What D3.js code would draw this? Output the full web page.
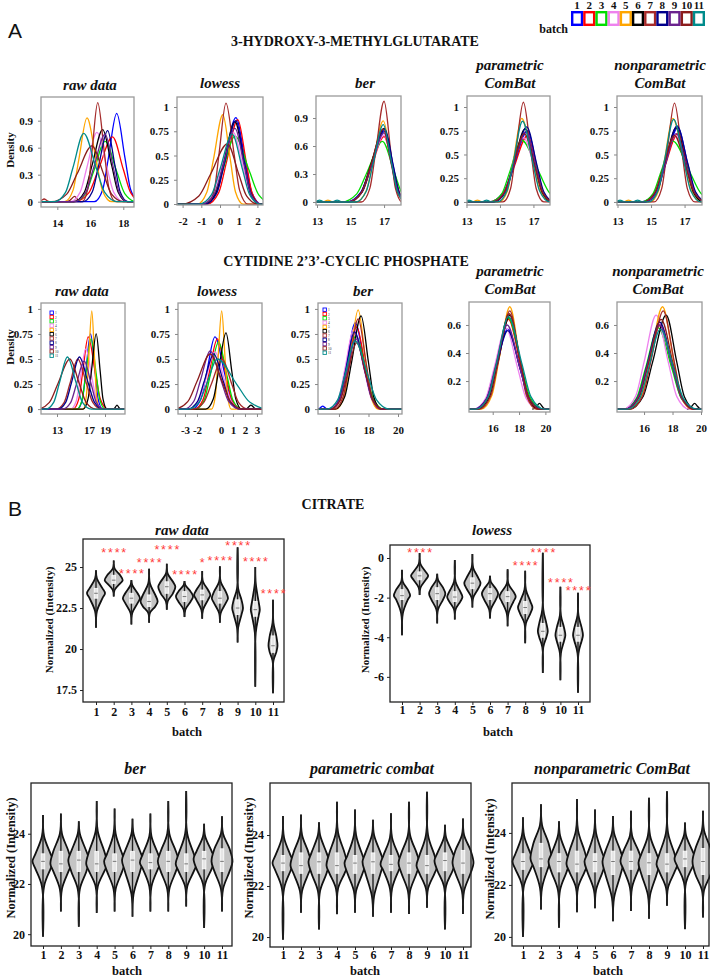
<!DOCTYPE html>
<html><head><meta charset="utf-8">
<script src="https://cdn.jsdelivr.net/npm/d3@7"></script>
<style>body{margin:0;background:#fff}svg{display:block}</style>
</head><body>
<svg id="c" width="710" height="977"></svg>
<script>
// ---------------- DATA ----------------
const batches = [1,2,3,4,5,6,7,8,9,10,11];
const batchColors = ["#0000ff","#ff0000","#00dd00","#ee82ee","#ffa500","#000000","#a52a2a","#00008b","#6b238e","#8b1c1c","#008b8b"];

const hmgTitle = "3-HYDROXY-3-METHYLGLUTARATE";
const cytTitle = "CYTIDINE 2\u20193\u2019-CYCLIC PHOSPHATE";
const citTitle = "CITRATE";

// density curves per batch: [x at left half-height, x at peak, x at right half-height, peak density]
const hmgRaw = [[17.1,17.6,18.1,0.98],[16.5,17.35,18.0,0.72],[16.2,16.9,17.6,0.67],[15.8,16.4,17.0,0.77],[15.3,15.8,16.35,0.93],[16.1,16.75,17.3,0.8],[16.1,16.45,16.85,1.1],[16.5,17.05,17.5,0.79],[16.2,16.9,17.4,0.75],[15.2,16.1,16.8,0.62],[14.95,15.6,16.35,0.76]];
const hmgLowess = [[0.25,0.85,1.35,0.89],[0.35,0.95,1.4,0.87],[0.15,0.8,1.55,0.7],[0.05,0.7,1.25,0.74],[-0.35,0.15,0.55,0.92],[0.2,0.8,1.3,0.85],[-0.05,0.32,0.75,1.04],[0.25,0.85,1.3,0.86],[0.15,0.8,1.3,0.78],[-0.5,0.4,1.0,0.62],[0.0,0.65,1.2,0.72]];
const hmgBer = [[16.2,17.05,17.55,0.76],[16.2,17.0,17.55,0.7],[16.0,16.9,17.6,0.65],[16.2,17.0,17.5,0.72],[16.35,16.95,17.45,0.87],[16.2,17.0,17.5,0.79],[16.5,17.0,17.4,1.08],[16.25,17.05,17.55,0.78],[16.2,17.0,17.5,0.74],[16.2,16.95,17.45,0.78],[16.35,16.95,17.45,0.83]];
const hmgPCombat = [[15.8,16.65,17.2,0.75],[15.8,16.65,17.2,0.7],[15.6,16.3,17.3,0.65],[15.75,16.4,17.1,0.68],[15.8,16.3,16.95,0.88],[15.8,16.5,17.1,0.77],[15.95,16.4,16.85,1.05],[15.85,16.6,17.2,0.79],[15.8,16.55,17.15,0.74],[15.75,16.45,17.1,0.72],[15.8,16.35,16.95,0.85]];
const hmgNpCombat = [[15.8,16.6,17.2,0.78],[15.8,16.6,17.2,0.72],[15.6,16.3,17.3,0.64],[15.75,16.45,17.1,0.7],[15.8,16.3,16.95,0.88],[15.8,16.5,17.1,0.78],[15.95,16.4,16.85,1.04],[15.85,16.55,17.2,0.8],[15.8,16.5,17.15,0.72],[15.7,16.4,17.1,0.7],[15.8,16.35,16.95,0.87]];

const cytRaw = [[16.6,17.2,17.75,0.75],[16.2,16.9,17.8,0.72],[16.6,17.25,17.9,0.7],[15.9,16.6,17.4,0.6],[16.95,17.35,17.7,0.98],[17.3,17.9,18.4,0.75],[14.6,15.6,16.7,0.5],[14.8,15.8,16.9,0.52],[15.4,16.4,17.3,0.48],[13.1,14.6,15.8,0.5],[13.3,14.3,15.4,0.52]];
const cytLowess = [[-1.2,-0.5,0.3,0.72],[-1.0,-0.3,0.4,0.7],[-0.9,-0.2,0.5,0.67],[-1.3,-0.5,0.3,0.57],[-0.25,0.06,0.35,0.98],[-0.2,0.42,0.9,0.76],[-0.8,0.1,0.9,0.5],[-1.4,-0.6,0.2,0.55],[-1.7,-0.9,0.0,0.58],[-2.0,-0.9,0.1,0.55],[-1.2,-0.3,1.3,0.5]];
const cytBer = [[16.5,17.1,17.75,0.86],[16.55,17.2,17.8,0.82],[16.5,17.15,17.85,0.73],[16.4,17.0,17.7,0.8],[16.75,17.3,17.8,0.99],[16.85,17.5,18.0,0.93],[16.7,17.3,17.85,0.9],[16.45,17.05,17.75,0.77],[16.5,17.15,17.8,0.7],[16.55,17.2,17.85,0.66],[16.4,17.1,17.95,0.68]];
const cytPCombat = [[16.2,17.15,18.1,0.57],[16.3,17.2,18.1,0.64],[16.25,17.2,18.15,0.65],[16.1,17.0,17.9,0.58],[16.5,17.3,18.05,0.73],[16.4,17.3,18.1,0.67],[16.45,17.3,18.05,0.7],[16.2,17.15,18.1,0.56],[16.2,17.1,18.05,0.6],[16.35,17.25,18.1,0.68],[16.3,17.2,18.2,0.66]];
const cytNpCombat = [[16.2,17.1,18.0,0.6],[16.2,17.15,18.0,0.6],[16.1,17.0,17.95,0.58],[16.0,16.85,17.7,0.67],[16.45,17.3,18.05,0.73],[16.6,17.55,18.3,0.67],[16.5,17.35,18.1,0.7],[16.2,17.1,18.0,0.62],[16.2,17.1,18.0,0.6],[16.3,17.2,18.05,0.64],[16.3,17.15,18.1,0.57]];

// small secondary bumps: [batch, x at left half-height, x at peak, x at right half-height, density]
const hmgRawBumps = [[7,13.05,13.2,13.35,0.03],[10,14.85,15.05,15.2,0.06]];
const hmgCbBumps = [[5,13.5,13.65,13.8,0.02],[11,14.05,14.2,14.35,0.02],[11,13.0,13.15,13.3,0.02]];
const cytRawBumps = [[6,20.3,20.5,20.7,0.04]];
const cytLowBumps = [[6,2.3,2.5,2.7,0.04]];
const cytBerBumps = [[1,14.75,14.9,15.05,0.03]];
const cytCbBumps = [[6,19.35,19.55,19.75,0.04]];

// tick labels
const hmgRawXTicks = [14,16,18], hmgRawYTicks = [0,0.3,0.6,0.9];
const hmgLowXTicks = [-2,-1,0,1,2], quarterTicks = [0,0.25,0.5,0.75,1];
const hmgBerXTicks = [13,15,17], hmgBerYTicks = [0,0.3,0.6,0.9];
const hmgCbXTicks = [13,15,17];
const cytRawXTicks = [13,17,19], cytLowXTicks = [-3,-2,0,1,2,3];
const cytBerXTicks = [16,18,20], cytCbYTicks = [0.2,0.4,0.6];

// violins per batch: [min, body low, q1, median, q3, body high, max, relative width]
const citRaw = [[21.3,22.3,23.1,23.4,23.7,24.3,24.8,1.0],[23.2,23.6,24.0,24.2,24.5,24.9,25.4,1.0],[21.5,22.2,22.8,23.1,23.4,23.9,24.2,0.95],[21.6,22.2,22.6,22.9,23.3,24.0,24.9,0.95],[22.4,22.9,23.4,23.8,24.1,24.6,25.2,0.95],[21.95,22.4,22.9,23.2,23.5,23.9,24.15,0.95],[21.85,22.4,23.0,23.3,23.6,24.1,24.75,0.9],[21.6,22.2,22.8,23.1,23.5,24.1,25.05,0.9],[20.4,21.3,22.1,22.5,23.0,23.7,26.2,0.6],[17.7,21.0,22.0,22.4,22.9,24.0,25.0,0.5],[17.3,19.3,19.8,20.2,20.8,21.6,23.0,0.5]];
const citLowess = [[-3.9,-2.8,-2.1,-1.9,-1.6,-1.2,-0.6,0.9],[-1.87,-1.5,-1.1,-0.9,-0.7,-0.3,0.25,0.95],[-3.3,-2.6,-2.1,-1.8,-1.5,-1.1,-0.8,0.9],[-3.1,-2.6,-2.2,-1.97,-1.7,-1.2,-0.1,0.85],[-2.5,-2.0,-1.55,-1.27,-1.0,-0.5,0.2,0.9],[-3.05,-2.6,-2.1,-1.8,-1.55,-1.2,-0.9,0.9],[-3.45,-2.8,-2.2,-1.95,-1.7,-1.3,-0.57,0.9],[-4.3,-3.3,-2.8,-2.5,-2.2,-1.6,-0.64,0.8],[-5.8,-4.5,-4.0,-3.7,-3.3,-2.6,0.27,0.55],[-6.17,-4.8,-4.2,-3.9,-3.5,-2.9,-1.45,0.55],[-6.8,-4.8,-4.2,-3.9,-3.5,-2.9,-1.75,0.55]];
const citBer = [[19.9,21.9,22.6,22.9,23.2,23.9,24.75,1],[20.9,21.8,22.5,22.8,23.3,24.0,24.8,1],[20.3,21.8,22.5,22.95,23.3,24.0,24.5,1],[20.85,21.9,22.5,22.8,23.3,24.1,25.3,1],[20.9,21.8,22.5,22.9,23.2,24.0,25.0,1],[20.7,21.6,22.5,22.95,23.3,24.0,24.6,1],[20.9,21.9,22.6,22.85,23.2,23.9,24.8,1],[20.9,21.8,22.5,22.9,23.3,24.0,25.3,1],[21.1,21.9,22.5,22.8,23.2,24.0,25.7,1],[20.25,22.0,22.6,23.0,23.3,23.9,24.4,1],[20.9,21.8,22.5,22.9,23.4,24.0,24.7,1]];
const citPCombat = [[19.9,21.9,22.6,22.9,23.2,23.9,24.75,1],[20.95,21.8,22.5,22.8,23.3,24.0,24.8,1],[20.3,21.8,22.5,22.95,23.3,24.0,24.5,1],[20.9,21.9,22.5,22.8,23.3,24.1,25.3,1],[20.95,21.8,22.5,22.9,23.2,24.0,25.0,1],[20.8,21.6,22.5,22.95,23.3,24.0,24.6,1],[20.95,21.9,22.6,22.85,23.2,23.9,24.85,1],[20.9,21.8,22.5,22.9,23.3,24.0,25.3,1],[21.15,21.9,22.5,22.8,23.2,24.0,25.7,1],[20.3,22.0,22.6,23.0,23.3,23.9,24.4,1],[20.9,21.8,22.5,22.9,23.4,24.0,24.65,1]];
const citNpCombat = [[20.0,22.0,22.6,22.9,23.2,23.9,24.6,1],[21.05,21.9,22.7,23.0,23.6,24.3,25.1,1],[20.35,21.8,22.5,22.9,23.2,23.9,24.45,1],[20.95,21.9,22.5,22.8,23.3,24.1,25.3,1],[21.1,21.8,22.5,22.9,23.2,24.0,24.9,1],[20.6,21.5,22.4,22.9,23.3,24.0,24.65,1],[21.0,21.9,22.6,22.9,23.3,23.9,24.85,1],[20.7,21.6,22.4,22.85,23.2,23.9,25.35,1],[21.2,21.9,22.5,22.8,23.2,24.0,25.6,1],[20.3,22.1,22.7,23.0,23.3,23.9,24.4,1],[20.75,21.8,22.4,22.9,23.4,24.1,24.85,1]];

const citRawYTicks = [17.5,20,22.5,25];
const citLowYTicks = [-6,-4,-2,0];
const citCbYTicks = [20,22,24];

// significance marks: [batch, value, label]
const citRawStars = [[2,26.04,"****"],[3,24.76,"****"],[4,25.43,"****"],[5,26.22,"****"],[6,24.7,"****"],[7,25.43,"*"],[8,25.55,"****"],[9,26.46,"****"],[10,25.49,"****"],[11,23.54,"****"]];
const citLowStars = [[2,0.4,"****"],[8,-0.25,"****"],[9,0.4,"****"],[10,-1.1,"****"],[11,-1.5,"****"]];

// ---------------- DRAWING ----------------
const svg = d3.select('#c');
const SERIF = "'Liberation Serif','Times New Roman',serif";
const SANS = "'Liberation Sans',Arial,sans-serif";

function text(x, y, s, o = {}) {
  return svg.append('text').attr('x', x).attr('y', y).text(s)
    .attr('font-family', o.family || SERIF).attr('font-weight', o.weight || 'bold')
    .attr('font-style', o.style || 'normal').attr('font-size', o.size || 12)
    .attr('text-anchor', o.anchor || 'middle').attr('fill', o.fill || '#111');
}
function rotText(x, y, s, size) {
  svg.append('text').attr('transform', `translate(${x},${y}) rotate(-90)`).text(s)
    .attr('font-family', SERIF).attr('font-weight', 'bold').attr('font-size', size)
    .attr('text-anchor', 'middle').attr('fill', '#111');
}
function styleAxis(g, size, tickColor) {
  g.select('.domain').remove();
  g.selectAll('line').attr('stroke', tickColor);
  g.selectAll('text').attr('font-family', SERIF).attr('font-weight', 'bold')
    .attr('font-size', size).attr('fill', '#111');
}

// panel labels and headings
text(8, 38, 'A', {family: SANS, weight: 'normal', size: 21, anchor: 'start'});
text(8, 516, 'B', {family: SANS, weight: 'normal', size: 21, anchor: 'start'});
text(355, 46, hmgTitle, {size: 14});
text(346, 266, cytTitle, {size: 14});
text(333, 509, citTitle, {size: 14});

// top legend
const legX = d3.scaleBand().domain(batches).range([571, 705]);
batches.forEach((b, i) => {
  svg.append('rect').attr('x', legX(b) + 1.2).attr('y', 12.2).attr('width', legX.bandwidth() - 2.4).attr('height', 12.6)
    .attr('fill', '#fff').attr('stroke', batchColors[i]).attr('stroke-width', 2.4);
  text(legX(b) + legX.bandwidth() / 2, 9, String(b), {size: 11});
});
text(568, 33, 'batch', {size: 12, anchor: 'end'});

function knots(c, xd) {
  const [xl, xm, xr, h] = c;
  const sl = (xm - xl) / 1.1774, sr = (xr - xm) / 1.1774;
  const pts = [[xm - 3.2 * sl, 0], [xm - 2 * sl, 0.135 * h], [xl, 0.5 * h], [xm, h], [xr, 0.5 * h], [xm + 2 * sr, 0.135 * h], [xm + 3.2 * sr, 0]];
  if (xd[0] - 1 < pts[0][0]) pts.unshift([xd[0] - 1, 0]);
  if (xd[1] + 1 > pts[pts.length - 1][0]) pts.push([xd[1] + 1, 0]);
  return pts;
}

const densityPanels = [
  {key: 'a1', data: hmgRaw, bumps: hmgRawBumps, box: [41, 134, 97, 207], xd: [13.01, 18.65], yd: [-0.059, 1.163], xt: hmgRawXTicks, yt: hmgRawYTicks, title: ['raw data'], tx: 90, ty: [90], ylab: 150},
  {key: 'a2', data: hmgLowess, bumps: [], box: [177, 263, 97, 205], xd: [-2.3, 2.3], yd: [-0.01, 1.103], xt: hmgLowXTicks, yt: quarterTicks, title: ['lowess'], tx: 220, ty: [88]},
  {key: 'a3', data: hmgBer, bumps: hmgCbBumps, box: [316, 401, 96, 205], xd: [12.94, 18.01], yd: [-0.032, 1.136], xt: hmgBerXTicks, yt: hmgBerYTicks, title: ['ber'], tx: 365, ty: [88]},
  {key: 'a4', data: hmgPCombat, bumps: hmgCbBumps, box: [467, 550, 96, 205], xd: [13.03, 17.99], yd: [-0.032, 1.116], xt: hmgCbXTicks, yt: quarterTicks, title: ['parametric', 'ComBat'], tx: 510, ty: [70, 88]},
  {key: 'a5', data: hmgNpCombat, bumps: hmgCbBumps, box: [617, 702, 96, 205], xd: [12.97, 18.04], yd: [-0.032, 1.116], xt: hmgCbXTicks, yt: quarterTicks, title: ['nonparametric', 'ComBat'], tx: 660, ty: [70, 88]},
  {key: 'b1', data: cytRaw, bumps: cytRawBumps, box: [41, 125, 303, 414], xd: [11.0, 21.5], yd: [-0.049, 1.059], xt: cytRawXTicks, yt: quarterTicks, title: ['raw data'], tx: 82, ty: [296], ylab: 347, legend: [50, 311]},
  {key: 'b2', data: cytLowess, bumps: cytLowBumps, box: [178, 262, 303, 414], xd: [-3.58, 3.42], yd: [-0.049, 1.059], xt: cytLowXTicks, yt: quarterTicks, title: ['lowess'], tx: 217, ty: [296]},
  {key: 'b3', data: cytBer, bumps: cytBerBumps, box: [318, 402, 303, 414], xd: [14.58, 20.27], yd: [-0.049, 1.059], xt: cytBerXTicks, yt: quarterTicks, title: ['ber'], tx: 363, ty: [296], legend: [323, 308]},
  {key: 'b4', data: cytPCombat, bumps: cytCbBumps, box: [469, 550, 302, 412], xd: [14.2, 20.35], yd: [-0.021, 0.764], xt: cytBerXTicks, yt: cytCbYTicks, title: ['parametric', 'ComBat'], tx: 510, ty: [276, 294]},
  {key: 'b5', data: cytNpCombat, bumps: cytCbBumps, box: [617, 702, 302, 412], xd: [14.1, 20.07], yd: [-0.021, 0.764], xt: cytBerXTicks, yt: cytCbYTicks, title: ['nonparametric', 'ComBat'], tx: 658, ty: [276, 294]}
];

function drawDensity(p) {
  const [x0, x1, y0, y1] = p.box;
  const x = d3.scaleLinear().domain(p.xd).range([x0, x1]);
  const y = d3.scaleLinear().domain(p.yd).range([y1, y0]);
  const id = 'clip_' + p.key;
  svg.append('clipPath').attr('id', id).append('rect').attr('x', x0).attr('y', y0).attr('width', x1 - x0).attr('height', y1 - y0);
  const cg = svg.append('g').attr('clip-path', `url(#${id})`);
  const line = d3.line().x(d => x(d[0])).y(d => y(d[1])).curve(d3.curveMonotoneX);
  p.bumps.forEach(b => {
    const pts = knots(b.slice(1), [b[1] - 0.5, b[3] + 0.5]).slice(1, -1);
    cg.append('path').attr('d', line(pts)).attr('fill', 'none')
      .attr('stroke', batchColors[b[0] - 1]).attr('stroke-width', 1.3);
  });
  p.data.forEach((c, i) => {
    cg.append('path').attr('d', line(knots(c, p.xd))).attr('fill', 'none')
      .attr('stroke', batchColors[i]).attr('stroke-width', 1.3);
  });
  svg.append('rect').attr('x', x0).attr('y', y0).attr('width', x1 - x0).attr('height', y1 - y0)
    .attr('fill', 'none').attr('stroke', '#9a9a9a').attr('stroke-width', 1.3);
  svg.append('g').attr('transform', `translate(0,${y1})`)
    .call(d3.axisBottom(x).tickValues(p.xt).tickSize(3).tickPadding(9).tickFormat(d => String(d)))
    .call(g => styleAxis(g, 11, '#888'));
  svg.append('g').attr('transform', `translate(${x0},0)`)
    .call(d3.axisLeft(y).tickValues(p.yt).tickSize(3).tickPadding(5).tickFormat(d => String(d)))
    .call(g => styleAxis(g, 11, '#888'));
  p.title.forEach((t, k) => text(p.tx, p.ty[k], t, {size: 15, style: 'italic'}));
  if (p.ylab) rotText(14, p.ylab, 'Density', 11);
  if (p.legend) {
    const [lx, ly] = p.legend;
    const ls = d3.scalePoint().domain(batches).range([ly, ly + 43]);
    batches.forEach((b, i) => {
      svg.append('rect').attr('x', lx).attr('y', ls(b)).attr('width', 3.4).attr('height', 3.4)
        .attr('fill', 'none').attr('stroke', batchColors[i]).attr('stroke-width', 0.9);
      svg.append('text').attr('x', lx + 5).attr('y', ls(b) + 3.2).text(b)
        .attr('font-family', SERIF).attr('font-size', 3.5).attr('fill', '#333');
    });
  }
}
densityPanels.forEach(drawDensity);

const violinPanels = [
  {key: 'v1', data: citRaw, box: [83, 284, 539, 702], yd: [16.77, 26.71], xr: [96, 273], yt: citRawYTicks, title: 'raw data', tx: 182, ty: 535, hw: 9, ylx: 53, yly: 620, blx: 187, bly: 736, lab: 716, stars: citRawStars},
  {key: 'v2', data: citLowess, box: [390, 590, 545, 702], yd: [-7.27, 0.657], xr: [402, 578], yt: citLowYTicks, title: 'lowess', tx: 492, ty: 535, hw: 9, ylx: 369, yly: 620, blx: 498, bly: 736, lab: 714, stars: citLowStars},
  {key: 'v3', data: citBer, box: [31, 232, 783, 946], yd: [19.53, 26.02], xr: [43, 222], yt: citCbYTicks, title: 'ber', tx: 135, ty: 774, hw: 10.5, ylx: 15, yly: 858, blx: 127, bly: 975, lab: 959, big: true},
  {key: 'v4', data: citPCombat, box: [270, 471, 783, 947], yd: [19.61, 26.04], xr: [283, 463], yt: citCbYTicks, title: 'parametric combat', tx: 372, ty: 774, hw: 10.5, ylx: 253, yly: 858, blx: 365, bly: 975, lab: 959, big: true},
  {key: 'v5', data: citNpCombat, box: [512, 709, 783, 946], yd: [19.65, 25.92], xr: [523, 703], yt: citCbYTicks, title: 'nonparametric ComBat', tx: 612, ty: 774, hw: 10.5, ylx: 494, yly: 859, blx: 608, bly: 975, lab: 959, big: true}
];

function drawViolins(p) {
  const [x0, x1, y0, y1] = p.box;
  const x = d3.scalePoint().domain(batches).range(p.xr);
  const y = d3.scaleLinear().domain(p.yd).range([y1, y0]);
  const g = svg.append('g');
  p.data.forEach((v, i) => {
    const [mn, lo, q1, md, q3, hi, mx, w] = v;
    const cx = x(batches[i]);
    const hw = p.hw * w;
    const pts = [[mn, 0], [lo, 0.1], [q1, 0.72], [md, 1], [q3, 0.72], [hi, 0.1], [mx, 0]];
    const area = d3.area().y(d => y(d[0])).x0(d => cx - d[1] * hw).x1(d => cx + d[1] * hw)
      .curve(d3.curveCatmullRom.alpha(0.5));
    g.append('path').attr('d', area(pts)).attr('fill', '#c4c4c4').attr('stroke', '#111').attr('stroke-width', 1.8);
    g.append('line').attr('x1', cx).attr('x2', cx).attr('y1', y(mn)).attr('y2', y(mx))
      .attr('stroke', '#222').attr('stroke-width', 1.4);
    g.append('rect').attr('x', cx - 1.8).attr('y', y(q3)).attr('width', 3.6).attr('height', y(q1) - y(q3))
      .attr('fill', '#e6e6e6').attr('stroke', '#fff').attr('stroke-width', 0.8);
    g.append('line').attr('x1', cx - 1.8).attr('x2', cx + 1.8).attr('y1', y(md)).attr('y2', y(md))
      .attr('stroke', '#777').attr('stroke-width', 1);
  });
  svg.append('rect').attr('x', x0).attr('y', y0).attr('width', x1 - x0).attr('height', y1 - y0)
    .attr('fill', 'none').attr('stroke', '#222').attr('stroke-width', 1.3);
  const fs = 12;
  svg.append('g').attr('transform', `translate(0,${y1})`)
    .call(d3.axisBottom(x).tickSize(3).tickPadding(p.lab - y1 - 3 - fs * 0.71).tickFormat(d => String(d)))
    .call(g => styleAxis(g, fs, '#222'));
  svg.append('g').attr('transform', `translate(${x0},0)`)
    .call(d3.axisLeft(y).tickValues(p.yt).tickSize(3).tickPadding(3).tickFormat(d => String(d)))
    .call(g => styleAxis(g, fs, '#222'));
  text(p.tx, p.ty, p.title, {size: p.big ? 16 : 15, style: 'italic'});
  rotText(p.ylx, p.yly, 'Normalized (Intensity)', p.big ? 12.5 : 11);
  text(p.blx, p.bly, 'batch', {size: 12.5});
  if (p.stars) {
    p.stars.forEach(s => {
      svg.append('text').attr('x', x(s[0]) + 1).attr('y', y(s[1])).attr('dy', '0.55em').text(s[2])
        .attr('font-family', SANS).attr('font-size', 12.5).attr('letter-spacing', 1.8)
        .attr('text-anchor', 'middle').attr('fill', '#ff3b3b');
    });
  }
}
violinPanels.forEach(drawViolins);
</script>
</body></html>
